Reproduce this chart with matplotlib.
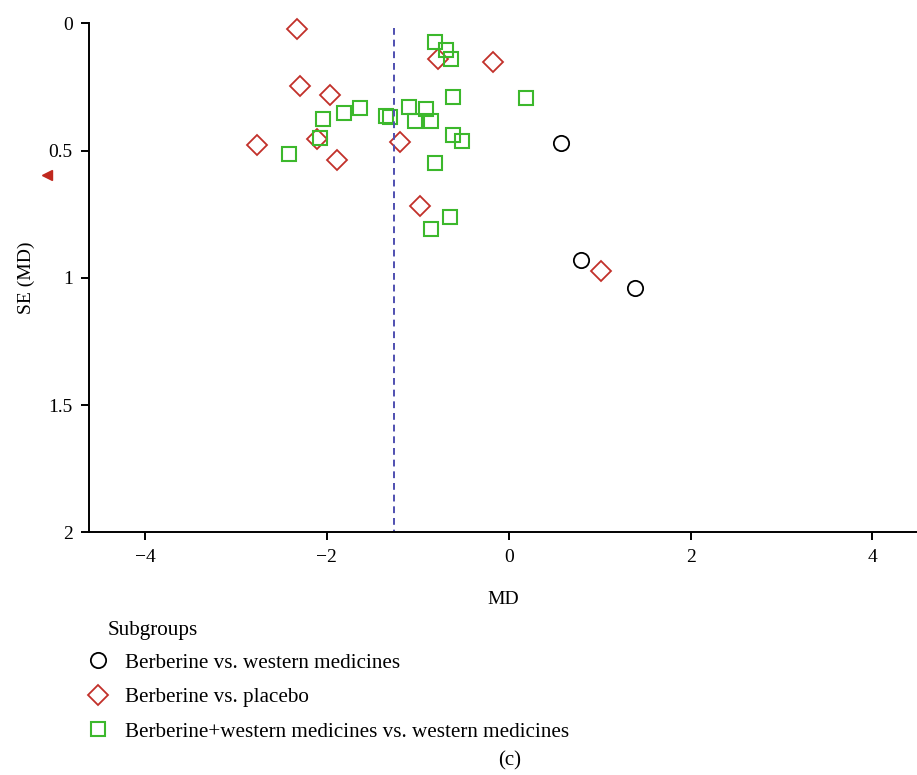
import matplotlib.pyplot as plt
from matplotlib.lines import Line2D
import matplotlib.transforms as mtransforms

plt.rcParams['font.family'] = ['Liberation Serif', 'DejaVu Serif']

# subgroup data: mean difference (MD) and its standard error
western_md = [0.58, 0.80, 1.39]
western_se = [0.47, 0.93, 1.04]

placebo_md = [-2.33, -2.29, -1.96, -2.77, -2.11, -1.89, -1.20, -0.78, -0.17, -0.98, 1.01]
placebo_se = [0.024, 0.245, 0.282, 0.479, 0.453, 0.537, 0.465, 0.140, 0.151, 0.717, 0.972]

combo_md = [-0.81, -0.69, -0.64, -0.61, 0.19, -1.10, -0.91, -1.03, -0.85, -0.61, -0.51,
            -0.81, -0.65, -1.63, -1.81, -2.04, -1.35, -1.30, -2.07, -2.42, -0.86]
combo_se = [0.075, 0.106, 0.141, 0.290, 0.294, 0.328, 0.335, 0.384, 0.384, 0.439, 0.464,
            0.549, 0.762, 0.332, 0.354, 0.377, 0.364, 0.367, 0.449, 0.514, 0.808]

pooled_md = -1.26
missing_se = 0.596

labels = ['Berberine vs. western medicines', 'Berberine vs. placebo',
          'Berberine+western medicines vs. western medicines']
red = '#c2302a'
green = '#3cb82c'

fig = plt.figure(figsize=(9.17, 7.75), dpi=100)
ax = fig.add_axes([0.0976, 0.3132, 0.9024, 0.6568])

ax.plot(western_md, western_se, 'o', ms=11, mfc='none', mec='black', mew=1.3, clip_on=False)
ax.plot(placebo_md, placebo_se, 'D', ms=10, mfc='none', mec=red, mew=1.3, clip_on=False)
ax.plot(combo_md, combo_se, 's', ms=10, mfc='none', mec=green, mew=1.5, clip_on=False)

ax.vlines(pooled_md, 0.02, 2, colors='#4f4fb0', linestyles=(0, (3.5, 2.5)), lw=1.4)

# small marker left of the axis
trans = mtransforms.blended_transform_factory(ax.transAxes, ax.transData)
ax.plot([-0.0514], [missing_se], '<', ms=7, color='#c0281e', transform=trans, clip_on=False)

ax.set_xlim(-4.61, 4.49)
ax.set_ylim(2, 0)
ax.set_xticks([-4, -2, 0, 2, 4])
ax.set_xticklabels(['\u22124', '\u22122', '0', '2', '4'])
ax.set_yticks([0, 0.5, 1, 1.5, 2])
ax.set_yticklabels(['0', '0.5', '1', '1.5', '2'])
for s in ['top', 'right']:
    ax.spines[s].set_visible(False)
for s in ['left', 'bottom']:
    ax.spines[s].set_linewidth(1.4)
ax.tick_params(direction='out', length=6, width=1.4, labelsize=14, pad=6)
ax.set_xlabel('MD', fontsize=14, labelpad=18)
ax.set_ylabel('SE (MD)', fontsize=14, labelpad=10)

handles = [
    Line2D([], [], ls='none', marker='o', ms=11, mfc='none', mec='black', mew=1.3),
    Line2D([], [], ls='none', marker='D', ms=10, mfc='none', mec=red, mew=1.3),
    Line2D([], [], ls='none', marker='s', ms=10, mfc='none', mec=green, mew=1.5),
]
fig.text(108 / 917, 1 - 631 / 775, 'Subgroups', fontsize=15.2, va='center')
leg = fig.legend(handles, labels, loc='upper left',
                 bbox_to_anchor=(87.5 / 917, 1 - 653 / 775), frameon=False, fontsize=15.2,
                 handlelength=1.0, handletextpad=0.79, labelspacing=0.7,
                 borderaxespad=0, borderpad=0)

fig.text(0.556, 0.012, '(c)', ha='center', fontsize=15)

plt.savefig('out.png', dpi=100)
